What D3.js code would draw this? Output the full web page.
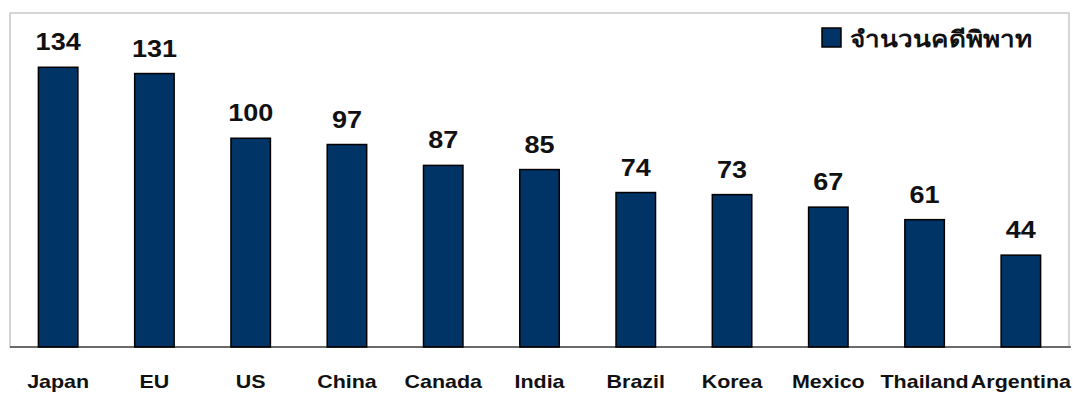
<!DOCTYPE html>
<html><head><meta charset="utf-8">
<script src="https://cdn.jsdelivr.net/npm/d3@7"></script>
<style>body{margin:0;background:#fff;} svg{display:block;font-family:"Liberation Sans",Arial,sans-serif;}</style>
</head><body>
<svg id="c" width="1073" height="394"></svg>
<script>
const categories = ["Japan","EU","US","China","Canada","India","Brazil","Korea","Mexico","Thailand","Argentina"];
const values = [134,131,100,97,87,85,74,73,67,61,44];
const seriesName = "จำนวนคดีพิพาท";

(function(){
const svg = d3.select("#c");
const pl = 10, pr = 1069, pt = 13, base = 347, sx = 1.16;
const x = d3.scaleBand().domain(categories).range([pl, pr]).paddingInner(0.59).paddingOuter(0.295);
const y = d3.scaleLinear().domain([0,160]).range([base, pt]);

svg.append("rect").attr("x",pl).attr("y",pt).attr("width",pr-pl).attr("height",base-pt)
  .attr("fill","none").attr("stroke","#c8c8c8").attr("stroke-width",1.5);

svg.append("g").selectAll("rect").data(values).join("rect")
  .attr("x",(d,i)=>x(categories[i])).attr("y",d=>y(d))
  .attr("width",x.bandwidth()).attr("height",d=>base-y(d))
  .attr("fill","#003366").attr("stroke","#000").attr("stroke-width",1.5);

svg.append("g").selectAll("text").data(values).join("text")
  .attr("transform",(d,i)=>`translate(${x(categories[i])+x.bandwidth()/2},${y(d)-17}) scale(${sx},1)`)
  .attr("text-anchor","middle").attr("font-weight","bold").attr("font-size",23.3).attr("fill","#111")
  .text(d=>d);

const ax = svg.append("g").attr("transform",`translate(0,${base})`).call(d3.axisBottom(x).tickSize(0).tickPadding(0));
ax.select(".domain").attr("d",`M${pl},0H${pr+2}`).attr("stroke","#000").attr("stroke-width",1.2);
ax.selectAll(".tick text").attr("dy",null).attr("y",null)
  .attr("transform",`translate(0,41) scale(${sx},1)`)
  .attr("font-size",18.5).attr("font-weight","bold").attr("fill","#111")
  .attr("font-family","\"Liberation Sans\",Arial,sans-serif");

const lg = svg.append("g").attr("transform","translate(822,28)");
lg.append("rect").attr("width",19).attr("height",19).attr("fill","#003366").attr("stroke","#000").attr("stroke-width",1.5);
lg.append("text").attr("transform",`translate(28,18.5) scale(${sx},1)`).attr("font-size",22.5).attr("font-weight","bold").attr("fill","#111").text(seriesName);
})();
</script>
</body></html>
